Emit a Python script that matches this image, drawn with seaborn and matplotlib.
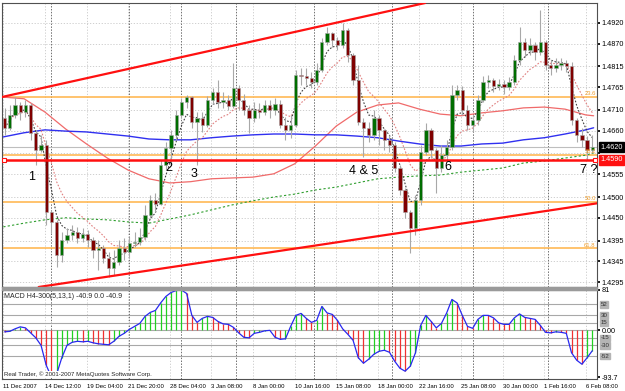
import numpy as np
import pandas as pd
import seaborn as sns
import matplotlib.pyplot as plt
from matplotlib.patches import Rectangle

# EURUSD H4, 11 Dec 2007 - 6 Feb 2008 (one candle here = two H4 bars)
first_open = 1.4691
close_px = [1.4667, 1.4698, 1.4722, 1.4705, 1.4722, 1.4655, 1.4614, 1.4626, 1.4464, 1.4440,
            1.4360, 1.4396, 1.4408, 1.4416, 1.4401, 1.4411, 1.4396, 1.4372, 1.4377, 1.4353,
            1.4329, 1.4343, 1.4377, 1.4367, 1.4389, 1.4392, 1.4404, 1.4457, 1.4493, 1.4484,
            1.4577, 1.4618, 1.4650, 1.4698, 1.4729, 1.4741, 1.4681, 1.4691, 1.4674, 1.4734,
            1.4753, 1.4729, 1.4734, 1.4720, 1.4763, 1.4734, 1.4710, 1.4691, 1.4710, 1.4705,
            1.4722, 1.4710, 1.4725, 1.4674, 1.4662, 1.4674, 1.4795, 1.4793, 1.4787, 1.4778,
            1.4807, 1.4874, 1.4896, 1.4879, 1.4867, 1.4903, 1.4843, 1.4782, 1.4681, 1.4667,
            1.4650, 1.4691, 1.4662, 1.4638, 1.4626, 1.4570, 1.4517, 1.4464, 1.4425, 1.4493,
            1.4609, 1.4662, 1.4614, 1.4570, 1.4602, 1.4621, 1.4746, 1.4758, 1.4710, 1.4674,
            1.4686, 1.4734, 1.4778, 1.4782, 1.4768, 1.4773, 1.4766, 1.4778, 1.4831, 1.4874,
            1.4855, 1.4867, 1.4850, 1.4874, 1.4819, 1.4811, 1.4819, 1.4823, 1.4816, 1.4686,
            1.4650, 1.4638, 1.4614, 1.4621]
high_px = [1.4715, 1.4722, 1.4741, 1.4729, 1.4734, 1.4727, 1.4662, 1.4650, 1.4638, 1.4469,
           1.4445, 1.4416, 1.4425, 1.4433, 1.4428, 1.4425, 1.4421, 1.4404, 1.4396, 1.4384,
           1.4367, 1.4372, 1.4396, 1.4401, 1.4404, 1.4416, 1.4425, 1.4481, 1.4505, 1.4510,
           1.4589, 1.4633, 1.4662, 1.4710, 1.4739, 1.4746, 1.4744, 1.4705, 1.4705, 1.4744,
           1.4763, 1.4782, 1.4753, 1.4746, 1.4823, 1.4770, 1.4749, 1.4722, 1.4729, 1.4727,
           1.4734, 1.4734, 1.4739, 1.4734, 1.4693, 1.4698, 1.4807, 1.4811, 1.4811, 1.4802,
           1.4823, 1.4884, 1.4910, 1.4898, 1.4886, 1.4920, 1.4908, 1.4848, 1.4819, 1.4691,
           1.4681, 1.4710, 1.4698, 1.4665, 1.4650, 1.4633, 1.4577, 1.4522, 1.4469, 1.4505,
           1.4626, 1.4679, 1.4667, 1.4618, 1.4626, 1.4638, 1.4770, 1.4770, 1.4768, 1.4722,
           1.4698, 1.4746, 1.4792, 1.4795, 1.4787, 1.4785, 1.4782, 1.4790, 1.4843, 1.4910,
           1.4884, 1.4884, 1.4874, 1.4951, 1.4879, 1.4831, 1.4836, 1.4836, 1.4831, 1.4826,
           1.4691, 1.4667, 1.4647, 1.4650]
low_px = [1.4650, 1.4662, 1.4691, 1.4686, 1.4693, 1.4638, 1.4577, 1.4609, 1.4433, 1.4413,
          1.4331, 1.4343, 1.4389, 1.4396, 1.4389, 1.4392, 1.4380, 1.4353, 1.4324, 1.4341,
          1.4307, 1.4312, 1.4336, 1.4348, 1.4353, 1.4380, 1.4384, 1.4396, 1.4449, 1.4464,
          1.4481, 1.4565, 1.4577, 1.4638, 1.4691, 1.4715, 1.4667, 1.4577, 1.4657, 1.4669,
          1.4725, 1.4715, 1.4715, 1.4710, 1.4715, 1.4710, 1.4698, 1.4655, 1.4681, 1.4691,
          1.4698, 1.4691, 1.4698, 1.4667, 1.4638, 1.4643, 1.4670, 1.4770, 1.4770, 1.4763,
          1.4770, 1.4802, 1.4867, 1.4862, 1.4855, 1.4860, 1.4826, 1.4770, 1.4674, 1.4597,
          1.4633, 1.4638, 1.4626, 1.4614, 1.4609, 1.4561, 1.4505, 1.4449, 1.4365, 1.4408,
          1.4481, 1.4602, 1.4594, 1.4510, 1.4561, 1.4589, 1.4614, 1.4734, 1.4698, 1.4662,
          1.4657, 1.4674, 1.4729, 1.4763, 1.4753, 1.4758, 1.4749, 1.4758, 1.4770, 1.4819,
          1.4838, 1.4843, 1.4831, 1.4843, 1.4807, 1.4795, 1.4802, 1.4807, 1.4802, 1.4674,
          1.4633, 1.4621, 1.4589, 1.4606]
macd_vals = [-3, -2, 3, 7, 5, -5, -15, -30, -70, -93.7,
             -88, -55, -30, -24, -22, -23, -22, -25, -27, -28,
             -29, -22, -12, -6, 2, 8, 14, 28, 36, 40,
             55, 68, 76, 80, 81, 74, 30, 16, 24, 28,
             26, 18, 13, 12, 6, -5, -14, -15, -6, -4,
             -1, 0, -14, -18, -17, 8, 30, 34, 24, 16,
             20, 48, 35, 32, 20, 3, -8, -20, -55, -66,
             -58, -48, -42, -40, -44, -62, -76, -82, -72, -45,
             10, 30, 18, 5, 14, 35, 62, 55, 30, 8,
             4, 22, 30, 30, 25, 15, 12, 12, 25, 33,
             26, 24, 22, 10, -4, -5, -3, -4, -6, -45,
             -60, -68, -55, -40.9]

# slow moving averages, read every 8 H4 bars (last point = bar 227)
ma_bars = list(range(0, 225, 8)) + [227]
ma_blue = [1.4645, 1.4655, 1.4662, 1.4659, 1.4657, 1.4652, 1.4647, 1.4640, 1.4638, 1.4638,
           1.4643, 1.4647, 1.4650, 1.4652, 1.4652, 1.4650, 1.4650, 1.4647, 1.4643, 1.4635,
           1.4628, 1.4623, 1.4623, 1.4628, 1.4630, 1.4638, 1.4643, 1.4652, 1.4662, 1.4667]
ma_red = [1.4741, 1.4737, 1.4705, 1.4664, 1.4628, 1.4594, 1.4565, 1.4544, 1.4534, 1.4537,
          1.4544, 1.4546, 1.4548, 1.4556, 1.4580, 1.4623, 1.4671, 1.4705, 1.4722, 1.4727,
          1.4712, 1.4700, 1.4696, 1.4703, 1.4708, 1.4715, 1.4717, 1.4712, 1.4698, 1.4696]
ma_green = [1.4428, 1.4437, 1.4445, 1.4450, 1.4447, 1.4445, 1.4440, 1.4437, 1.4447, 1.4457,
            1.4469, 1.4481, 1.4491, 1.4500, 1.4507, 1.4517, 1.4524, 1.4534, 1.4544, 1.4548,
            1.4551, 1.4553, 1.4560, 1.4565, 1.4570, 1.4582, 1.4587, 1.4594, 1.4601, 1.4606]

price_ticks = [1.4920, 1.4870, 1.4815, 1.4765, 1.4710, 1.4660, 1.4605, 1.4555, 1.4500,
               1.4450, 1.4395, 1.4345, 1.4295]
hidden_tick = 1.4605  # covered by the bid / support price boxes
time_ticks = list(range(0, 225, 16))
time_labels = ["11 Dec 2007", "14 Dec 12:00", "19 Dec 04:00", "21 Dec 20:00", "28 Dec 04:00",
               "3 Jan 08:00", "8 Jan 00:00", "10 Jan 16:00", "15 Jan 08:00", "18 Jan 00:00",
               "22 Jan 16:00", "25 Jan 08:00", "30 Jan 00:00", "1 Feb 16:00", "6 Feb 08:00"]
week_starts = [19, 49, 69, 90, 120, 150, 181, 210]

fib_high, fib_low = 1.4968, 1.4010
fib_ratios = [0.0, 0.236, 0.382, 0.5, 0.618]
fib_names = ["", "23.6", "38.2", "50.0", "61.8"]
support = 1.4590
bid = 1.4620
upper_channel = [(0, 1.4742), (150, 1.4951)]
lower_channel = [(20, 1.4289), (220, 1.4477)]
notes = ["1", "2", "3", "4 & 5", "6", "7 ?"]
note_bars = [10.8, 63.5, 73.5, 138.5, 170.8, 225.0]
note_prices = [1.4548, 1.4570, 1.4556, 1.4563, 1.4573, 1.4565]
macd_levels = [52, 30, 15, 0, -15, -30, -52]
macd_boxed = [52, 30, 15, -15, -30, -52]

sns.set_theme(style="white")
plt.rcParams['font.family'] = ['Liberation Sans', 'DejaVu Sans']

close_px = np.array(close_px)
opens = np.r_[first_open, close_px[:-1]]
xb = np.arange(len(close_px)) * 2 + 0.5
macd = np.array(macd_vals)

W, H = 625, 391
def box(l, t, r, b):
    return [l / W, 1 - b / H, (r - l) / W, (b - t) / H]

fig = plt.figure(figsize=(6.25, 3.91), dpi=100)
ax = fig.add_axes(box(2, 3, 597, 287))
axm = fig.add_axes(box(2, 290, 597, 379), sharex=ax)
fig.patches.append(Rectangle((2 / W, 1 - 290 / H), 595 / W, 3 / H, transform=fig.transFigure,
                             color='#9A9A9A', zorder=0))

for a in (ax, axm):
    a.set_facecolor('white')
    for s in a.spines.values():
        s.set_color('#505050')
        s.set_linewidth(0.8)
    for w in week_starts:
        a.axvline(w - 0.5, color='#707070', ls=(0, (1.5, 1.5)), lw=0.7, zorder=1)
    a.yaxis.tick_right()

ax.set_xlim(-0.5, 228.3)
ax.set_ylim(1.4283, 1.4968)
ax.set_yticks(price_ticks)
ax.set_yticklabels(["" if p == hidden_tick else f"{p:.4f}" for p in price_ticks])
ax.tick_params(axis='y', labelsize=5.2, length=2, pad=1.5, colors='black')
ax.tick_params(axis='x', bottom=False, labelbottom=False)
ax.grid(True, color='#C8C8C8', ls=(0, (1.5, 2)), lw=0.6)

# fibonacci levels
for r, name in zip(fib_ratios, fib_names):
    lvl = fib_high - r * (fib_high - fib_low)
    ax.axhline(lvl, color='#FFB347', lw=1.1, zorder=2)
    if name:
        ax.text(227.8, lvl + 0.0002, name, fontsize=4.2, color='#F0A030', ha='right', va='bottom', zorder=6)

ax.axhline(bid, color='#BEBEBE', lw=0.8, zorder=2)

# slow averages
sns.lineplot(x=ma_bars, y=ma_green, ax=ax, color='#2E9E2E', lw=0.8, ls=(0, (2, 2)), zorder=3)
sns.lineplot(x=ma_bars, y=ma_red, ax=ax, color='#F06A6A', lw=0.9, zorder=3)
sns.lineplot(x=ma_bars, y=ma_blue, ax=ax, color='#3030F0', lw=1.0, zorder=3)

# fast averages of the candles
fast = pd.Series(close_px).ewm(span=4).mean()
slow = pd.Series(close_px).ewm(span=10).mean()
sns.lineplot(x=xb, y=slow.values, ax=ax, color='#E08080', lw=0.8, ls=(0, (1.5, 1.5)), zorder=3)
sns.lineplot(x=xb, y=fast.values, ax=ax, color='#404040', lw=0.8, ls=(0, (1.5, 1.5)), zorder=3)

# candles
ax.vlines(xb, low_px, high_px, color='#A8A8A8', lw=0.8, zorder=4)
body_col = np.where(close_px >= opens, '#006E00', '#800000')
ax.bar(xb, close_px - opens, bottom=opens, width=1.25, color=body_col,
       edgecolor='#A8A8A8', linewidth=0.4, zorder=5)

# trend channel and support
ax.axline(upper_channel[0], upper_channel[1], color='#FF1010', lw=1.6, zorder=6)
ax.axline(lower_channel[0], lower_channel[1], color='#FF1010', lw=1.6, zorder=6)
ax.axhline(support, color='#FF1010', lw=1.8, zorder=6)
ax.plot([0.2, 227.6], [support, support], 's', ms=2.8, mfc='white', mec='#FF1010', mew=0.8, zorder=7)

for t, b, p in zip(notes, note_bars, note_prices):
    ax.text(b, p, t, fontsize=9, ha='center', va='center', color='black', zorder=8)

ax.annotate(f"{bid:.4f}", xy=(1.006, bid), xycoords=('axes fraction', 'data'), fontsize=5.2,
            color='white', ha='left', va='center', annotation_clip=False,
            bbox=dict(boxstyle='square,pad=0.2', fc='black', ec='black'))
ax.annotate(f"{support:.4f}", xy=(1.006, support), xycoords=('axes fraction', 'data'), fontsize=5.2,
            color='white', ha='left', va='center', annotation_clip=False,
            bbox=dict(boxstyle='square,pad=0.2', fc='#FF1010', ec='#FF1010'))

# MACD pane
axm.set_ylim(-97.7, 81)
for lv in macd_levels:
    axm.axhline(lv, color='#A8A8A8', lw=0.8, zorder=1)
hist_col = ['#20D020' if i > 0 and macd[i] > macd[i - 1] else '#F03030' for i in range(len(macd))]
axm.vlines(xb, 0, macd, colors=hist_col, lw=0.9, zorder=2)
sns.lineplot(x=xb, y=macd, ax=axm, color='#2828F0', lw=0.9, zorder=3)
axm.set_yticks([81, 0, -93.7])
axm.set_yticklabels(['81', '0.00', '-93.7'])
axm.tick_params(axis='y', labelsize=5.2, length=2, pad=1.5, colors='black')
for lv in macd_boxed:
    axm.annotate(f"{lv}", xy=(1.006, lv), xycoords=('axes fraction', 'data'), fontsize=4.4,
                 color='#303030', ha='left', va='center', annotation_clip=False,
                 bbox=dict(boxstyle='square,pad=0.12', fc='#B4B4B4', ec='#B4B4B4'))
axm.set_xticks(time_ticks)
axm.set_xticklabels(time_labels, fontsize=4.3, ha='left')
axm.tick_params(axis='x', length=2, pad=1.5, colors='black')
axm.grid(True, axis='x', color='#C8C8C8', ls=(0, (1.5, 2)), lw=0.6)
axm.set_xlabel('')
axm.set_ylabel('')
ax.set_xlabel('')
ax.set_ylabel('')
axm.text(0.004, 0.97, "MACD H4-300(5,13,1) -40.9 0.0 -40.9", transform=axm.transAxes,
         fontsize=5, ha='left', va='top', zorder=5)
axm.text(0.003, 0.02, "Real Trader, © 2001-2007 MetaQuotes Software Corp.", transform=axm.transAxes,
         fontsize=4.4, ha='left', va='bottom', zorder=5,
         bbox=dict(boxstyle='square,pad=0.1', fc='white', ec='none'))

fig.savefig('out.png', dpi=100)
